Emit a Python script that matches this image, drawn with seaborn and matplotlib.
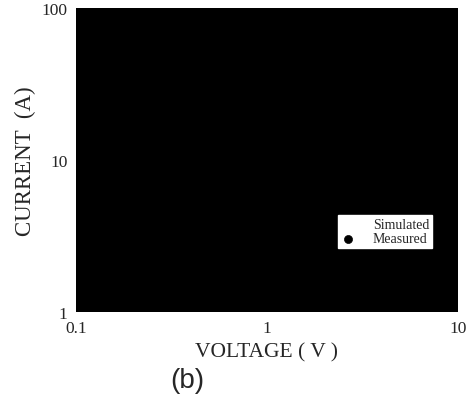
import matplotlib
matplotlib.use("Agg")
import matplotlib.pyplot as plt
import seaborn as sns
import pandas as pd

# data (curves drawn in black on the black scanned panel, so hardly visible)
voltage_sim = [0.6, 0.7, 0.8, 0.9, 1.0, 1.2, 1.5, 2.0, 2.5, 3.0]
current_sim = [1.0, 1.6, 2.6, 4.0, 5.8, 10.0, 17.0, 30.0, 45.0, 62.0]
voltage_meas = [0.65, 0.8, 1.0, 1.3, 1.7, 2.2, 2.8]
current_meas = [1.3, 2.5, 5.6, 12.0, 22.0, 38.0, 58.0]

x_ticks = [0.1, 1, 10]
x_tick_labels = ["0.1", "1", "10"]
y_ticks = [1, 10, 100]
y_tick_labels = ["1", "10", "100"]

df_sim = pd.DataFrame({"voltage": voltage_sim, "current": current_sim})
df_meas = pd.DataFrame({"voltage": voltage_meas, "current": current_meas})

sns.set_style("white")
plt.rcParams["font.family"] = ["Liberation Serif", "DejaVu Serif"]

fig = plt.figure(figsize=(4.71, 4.02), dpi=100)
ax = fig.add_axes([0.161, 0.221, 0.811, 0.757])
ax.set_facecolor("black")

sns.lineplot(data=df_sim, x="voltage", y="current", ax=ax, color="white",
             linewidth=0, label="Simulated")
sns.scatterplot(data=df_meas, x="voltage", y="current", ax=ax, color="black",
                s=34, edgecolor="black", label="Measured")

ax.set_xscale("log")
ax.set_yscale("log")
ax.set_xlim(0.1, 10)
ax.set_ylim(1, 100)
ax.set_xticks(x_ticks)
ax.set_xticklabels(x_tick_labels)
ax.set_yticks(y_ticks)
ax.set_yticklabels(y_tick_labels)
ax.minorticks_off()
ax.tick_params(length=0, labelsize=12.5, pad=6)
for s in ax.spines.values():
    s.set_visible(False)

ax.set_xlabel("VOLTAGE ( V )", fontsize=15.5, labelpad=4)
ax.set_ylabel("CURRENT  (A)", fontsize=16.5, labelpad=4)

leg = ax.legend(loc="lower right", bbox_to_anchor=(0.932, 0.211),
                borderaxespad=0, frameon=True, fontsize=10, fancybox=False,
                handlelength=1.0, handletextpad=1.3, borderpad=0.2,
                labelspacing=0.1, markerfirst=True)
leg.get_frame().set_facecolor("white")
leg.get_frame().set_edgecolor("white")
leg.get_frame().set_alpha(1)
for t in leg.get_texts():
    t.set_ha("right")

fig.text(0.398, 0.052, "(b)", fontsize=20, family=["Liberation Sans", "DejaVu Sans"],
         ha="center", va="center")

fig.savefig("out.png", dpi=100, facecolor="white")
